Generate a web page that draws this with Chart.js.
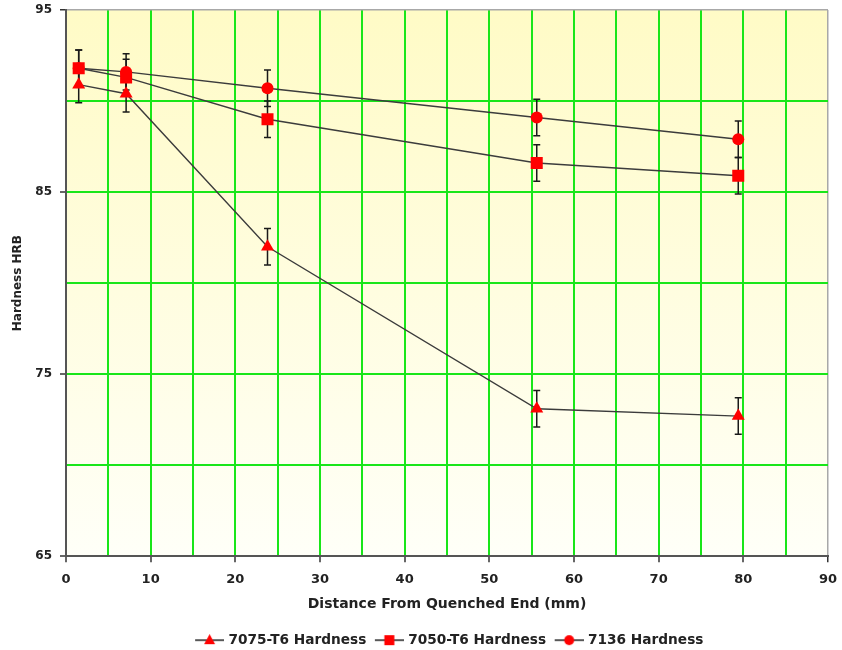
<!DOCTYPE html>
<html>
<head>
<meta charset="utf-8">
<title>Hardness vs Distance From Quenched End</title>
<script src="https://cdn.jsdelivr.net/npm/chart.js@4.4.1/dist/chart.umd.min.js"></script>
<style>
  html, body { margin:0; padding:0; background:#fff; }
  #chart { display:block; }
</style>
</head>
<body>
<canvas id="chart" width="842" height="650"></canvas>
<script>
// distances (mm) where each bar was measured
const distances = [1.5, 7.1, 23.8, 55.6, 79.4]

const hard7075 = [90.9, 90.4, 82.0, 73.1, 72.7]
const hard7050 = [91.8, 91.3, 89.0, 86.6, 85.9]
const hard7136 = [91.8, 91.6, 90.7, 89.1, 87.9]

// +/- error on each reading
const err7075 = [1.0, 1.0, 1.0, 1.0, 1.0]
const err7050 = [1.0, 1.0, 1.0, 1.0, 1.0]
const err7136 = [1.0, 1.0, 1.0, 1.0, 1.0]

const seriesNames = ['7075-T6 Hardness', '7050-T6 Hardness', '7136 Hardness']
const markers = ['triangle', 'rect', 'circle']

const xTickLabels = [0, 10, 20, 30, 40, 50, 60, 70, 80, 90]
const yTickLabels = [65, 75, 85, 95]

const FONT = "'DejaVu Sans', Verdana, sans-serif"
const RED = '#ff0000'
const LINE = '#3c3c3c'
const GRID = '#19e619'

const points = (ys) => distances.map((x, i) => ({x, y: ys[i]}))

// little "line + marker" pictures for the legend
function legendIcon(style) {
  const c = document.createElement('canvas')
  c.width = 36; c.height = 12
  const g = c.getContext('2d')
  g.strokeStyle = '#222'; g.lineWidth = 1.5
  g.beginPath(); g.moveTo(7, 6); g.lineTo(36, 6); g.stroke()
  g.fillStyle = RED
  const cx = 21.5, cy = 6
  g.beginPath()
  if (style === 'triangle') { g.moveTo(cx, cy - 6); g.lineTo(cx + 5.5, cy + 4); g.lineTo(cx - 5.5, cy + 4); g.closePath() }
  else if (style === 'rect') { g.rect(cx - 5, cy - 5, 10, 10) }
  else { g.arc(cx, cy, 5, 0, Math.PI * 2) }
  g.fill()
  return c
}
const icons = markers.map(legendIcon)

// yellow to white fill behind the plot
const plotBackground = {
  id: 'plotBackground',
  beforeDraw(chart) {
    const {ctx, chartArea: a} = chart
    const grad = ctx.createLinearGradient(0, a.top, 0, a.bottom)
    grad.addColorStop(0, '#fffbc6')
    grad.addColorStop(1, '#fffff8')
    ctx.save()
    ctx.fillStyle = grad
    ctx.fillRect(a.left, a.top, a.right - a.left, a.bottom - a.top)
    ctx.restore()
  }
}

// vertical error bars, placed with the chart's own scales
const errorBars = {
  id: 'errorBars',
  beforeDatasetsDraw(chart) {
    const {ctx, scales: {x, y}} = chart
    ctx.save()
    ctx.strokeStyle = '#1a1a1a'
    ctx.lineWidth = 1.5
    chart.data.datasets.forEach(ds => {
      ds.data.forEach((p, i) => {
        const px = x.getPixelForValue(p.x)
        const top = y.getPixelForValue(p.y + ds.errors[i])
        const bot = y.getPixelForValue(p.y - ds.errors[i])
        ctx.beginPath()
        ctx.moveTo(px, top); ctx.lineTo(px, bot)
        ctx.moveTo(px - 3.5, top); ctx.lineTo(px + 3.5, top)
        ctx.moveTo(px - 3.5, bot); ctx.lineTo(px + 3.5, bot)
        ctx.stroke()
      })
    })
    ctx.restore()
  }
}

function makeSet(i, ys, errs, radius) {
  return {
    label: seriesNames[i],
    data: points(ys),
    errors: errs,
    showLine: true,
    borderColor: LINE,
    borderWidth: 1.4,
    pointStyle: markers[i],
    pointRadius: radius,
    pointHoverRadius: radius,
    pointBackgroundColor: RED,
    pointBorderColor: RED,
    pointBorderWidth: 0
  }
}

try {
  new Chart(document.getElementById('chart'), {
    type: 'scatter',
    data: {
      datasets: [
        makeSet(0, hard7075, err7075, 7.5),
        makeSet(1, hard7050, err7050, 8.5),
        makeSet(2, hard7136, err7136, 6)
      ]
    },
    options: {
      responsive: false,
      animation: false,
      layout: {padding: {left: 0, right: 14, top: 10, bottom: -7}},
      plugins: {
        tooltip: {enabled: false},
        legend: {
          position: 'bottom',
          fullSize: false,
          labels: {
            usePointStyle: true,
            pointStyleWidth: 31,
            padding: 4,
            color: '#222',
            font: {family: FONT, size: 13.7, weight: 'bold'},
            generateLabels: chart => chart.data.datasets.map((ds, i) => ({
              text: ds.label, pointStyle: icons[i], datasetIndex: i,
              fillStyle: 'transparent', strokeStyle: 'transparent', lineWidth: 0, fontColor: '#222', hidden: false
            }))
          }
        }
      },
      scales: {
        x: {
          type: 'linear', min: 0, max: 90,
          afterFit: s => { s.height = 73 },
          ticks: {
            stepSize: 5, autoSkip: false, maxRotation: 0, padding: 4, color: '#222',
            font: {family: FONT, size: 13, weight: 'bold', lineHeight: 2},
            callback: v => xTickLabels.includes(v) ? v : ''
          },
          grid: {
            color: c => c.tick && c.tick.value === 90 ? '#a8a8a8' : GRID,
            lineWidth: c => c.tick && c.tick.value === 90 ? 1.5 : 2,
            tickLength: 6,
            tickColor: c => c.tick && xTickLabels.includes(c.tick.value) ? '#333' : 'rgba(0,0,0,0)',
            tickWidth: 1.5
          },
          border: {color: '#555', width: 2},
          title: {
            display: true, text: 'Distance From Quenched End (mm)', color: '#222',
            font: {family: FONT, size: 14, weight: 'bold'},
            padding: {top: 0, bottom: 17}
          }
        },
        y: {
          min: 65, max: 95,
          afterFit: s => { s.width = 66 },
          ticks: {
            stepSize: 5, autoSkip: false, padding: 8, color: '#222',
            font: {family: FONT, size: 12, weight: 'bold', lineHeight: 0.3},
            callback: v => yTickLabels.includes(v) ? v : ''
          },
          grid: {
            color: c => c.tick && c.tick.value === 95 ? '#a8a8a8' : GRID,
            lineWidth: c => c.tick && c.tick.value === 95 ? 1.5 : 2,
            tickLength: 6,
            tickColor: c => c.tick && yTickLabels.includes(c.tick.value) ? '#333' : 'rgba(0,0,0,0)',
            tickWidth: 1.5
          },
          border: {color: '#555', width: 2},
          title: {
            display: true, text: 'Hardness HRB', color: '#222',
            font: {family: FONT, size: 12, weight: 'bold'},
            padding: {top: 10.5, bottom: 0}
          }
        }
      }
    },
    plugins: [plotBackground, errorBars]
  })
} catch (e) {
  console.error('Chart init error:', e)
}
</script>
</body>
</html>
